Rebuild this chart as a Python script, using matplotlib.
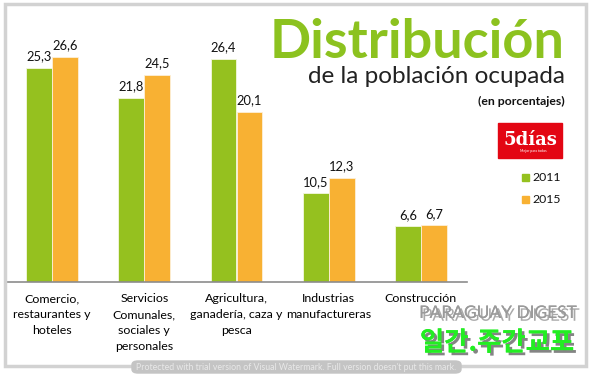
import matplotlib.pyplot as plt
from matplotlib.patches import Rectangle, FancyBboxPatch
import matplotlib.patheffects as pe
import numpy as np

categories = ['Comercio,\nrestaurantes y\nhoteles',
              'Servicios\nComunales,\nsociales y\npersonales',
              'Agricultura,\nganadería, caza y\npesca',
              'Industrias\nmanufactureras',
              'Construcción']
years = ['2011', '2015']
v2011 = [25.3, 21.8, 26.4, 10.5, 6.6]
v2015 = [26.6, 24.5, 20.1, 12.3, 6.7]

GREEN = '#95c11f'
ORANGE = '#f8b133'

plt.rcParams['font.family'] = ['Lato', 'DejaVu Sans']

fig = plt.figure(figsize=(5.9, 3.74), dpi=100)
W, H = 590, 374

# outer frame
fig.patches.append(Rectangle((5 / W, 1 - 366 / H), 581 / W, 362 / H,
                             transform=fig.transFigure, fill=False,
                             edgecolor='#d2d2d2', linewidth=2.5))

ax = fig.add_axes([6 / W, 1 - 282 / H, 461 / W, 262 / H])
x = np.arange(len(categories))
bw = 0.28
b1 = ax.bar(x - bw / 2, v2011, bw, color=GREEN, edgecolor='#f3f7e0', linewidth=0.6)
b2 = ax.bar(x + bw / 2, v2015, bw, color=ORANGE, edgecolor='#fdf0d8', linewidth=0.6)
for bars in (b1, b2):
    for b in bars:
        ax.annotate(f'{b.get_height():.1f}'.replace('.', ','),
                    (b.get_x() + b.get_width() / 2, b.get_height()),
                    xytext=(0, 4), textcoords='offset points',
                    ha='center', va='bottom', fontsize=9.3, color='#111111')

ax.set_xlim(-0.5, len(categories) - 0.5)
ax.set_ylim(0, 31)
ax.set_xticks(x)
ax.set_xticklabels(categories, fontsize=8.9, linespacing=1.55, va='top')
ax.tick_params(axis='x', length=0, pad=8)
ax.set_yticks([])
for s in ('left', 'right', 'top'):
    ax.spines[s].set_visible(False)
ax.spines['bottom'].set_color('#8c8c8c')
ax.spines['bottom'].set_linewidth(1.2)

# titles
fig.text(565 / W, 1 - 58 / H, 'Distribución', ha='right', va='baseline',
         fontsize=39, fontweight='bold', color='#8cc21f')
fig.text(565 / W, 1 - 83 / H, 'de la población ocupada', ha='right', va='baseline',
         fontsize=17.5, color='#222222')
fig.text(565 / W, 1 - 105 / H, '(en porcentajes)', ha='right', va='baseline',
         fontsize=8.8, fontweight='bold', color='#111111')

# 5dias logo
fig.patches.append(Rectangle((498 / W, 1 - 158 / H), 64 / W, 35 / H,
                             transform=fig.transFigure, color='#e30613'))
fig.text(530 / W, 1 - 145 / H, '5días', ha='center', va='baseline',
         fontsize=13, fontweight='bold', color='white', family='DejaVu Serif')
fig.text(533 / W, 1 - 152 / H, 'Mejor para todos', ha='center', va='baseline',
         fontsize=2.5, color='white')

# legend
for i, (yr, c) in enumerate(zip(years, [GREEN, ORANGE])):
    ytop = 174 + i * 22
    fig.patches.append(Rectangle((522 / W, 1 - (ytop + 7) / H), 7 / W, 7 / H,
                                 transform=fig.transFigure, color=c))
    fig.text(532 / W, 1 - (ytop + 3.5) / H, yr, ha='left', va='center',
             fontsize=8.8, color='#111111')

# watermarks
fig.text(498 / W, 1 - 313 / H, 'PARAGUAY DIGEST', ha='center', va='center',
         fontsize=12.5, color='#9a9a9a', fontstretch='condensed',
         path_effects=[pe.withSimplePatchShadow(offset=(2, -2), shadow_rgbFace='#555555', alpha=0.5),
                       pe.Normal()])
fig.text(497 / W, 1 - 343 / H, '일간.주간교포', ha='center', va='center',
         fontsize=19, fontweight='bold', color='#22ee22',
         family=['Noto Sans CJK KR', 'DejaVu Sans'],
         path_effects=[pe.withSimplePatchShadow(offset=(2, -2), shadow_rgbFace='#333333', alpha=0.6),
                       pe.Normal()])
fig.patches.append(FancyBboxPatch((132 / W, 1 - 373 / H), 329 / W, 12 / H,
                                  boxstyle='round,pad=0,rounding_size=0.01',
                                  transform=fig.transFigure, color='#c4c4c4'))
fig.text(296 / W, 1 - 367 / H,
         "Protected with trial version of Visual Watermark. Full version doesn't put this mark.",
         ha='center', va='center', fontsize=6.3, color='#e8e8e8')

fig.savefig('out.png', dpi=100)
